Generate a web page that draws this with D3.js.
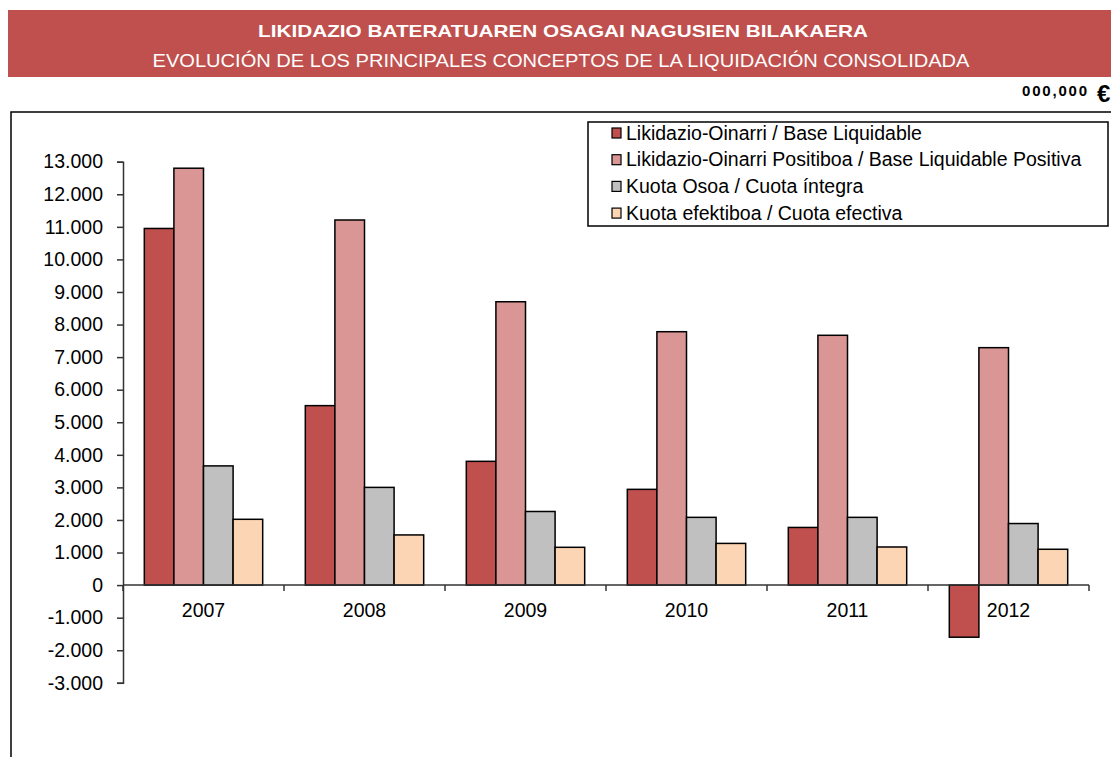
<!DOCTYPE html>
<html>
<head>
<meta charset="utf-8">
<script src="https://cdn.jsdelivr.net/npm/d3@7/dist/d3.min.js"></script>
<style>
  html, body { margin: 0; padding: 0; background: #fff; }
  svg { display: block; font-family: "Liberation Sans", Arial, sans-serif; }
</style>
</head>
<body>
<svg id="chart" width="1111" height="757"></svg>
<script>
// Years on the category axis
const years = ["2007", "2008", "2009", "2010", "2011", "2012"];

// Series names (legend order)
const seriesNames = [
  "Likidazio-Oinarri / Base Liquidable",
  "Likidazio-Oinarri Positiboa / Base Liquidable Positiva",
  "Kuota Osoa / Cuota íntegra",
  "Kuota efektiboa / Cuota efectiva"
];

// Values in millions of euros, one array per series
const baseLiquidable   = [10950, 5510, 3800, 2940, 1770, -1600];
const basePositiva     = [12800, 11210, 8700, 7780, 7670, 7290];
const cuotaIntegra     = [3660, 3000, 2260, 2080, 2080, 1890];
const cuotaEfectiva    = [2020, 1540, 1160, 1280, 1170, 1100];

const seriesColors = ["#C0504D", "#D99694", "#C0C0C0", "#FCD5B4"];

// Value-axis ticks
const yTicks = [-3000, -2000, -1000, 0, 1000, 2000, 3000, 4000, 5000, 6000, 7000, 8000, 9000, 10000, 11000, 12000, 13000];

const titleLine1 = "LIKIDAZIO BATERATUAREN OSAGAI NAGUSIEN BILAKAERA";
const titleLine2 = "EVOLUCIÓN DE LOS PRINCIPALES CONCEPTOS DE LA LIQUIDACIÓN CONSOLIDADA";
const unitNumber = "000,000";
const unitCurrency = "€";

const seriesData = [baseLiquidable, basePositiva, cuotaIntegra, cuotaEfectiva];

const svg = d3.select("#chart");

// Title banner
svg.append("rect").attr("x", 8).attr("y", 10).attr("width", 1103).attr("height", 67).attr("fill", "#C0504D");
svg.append("text").attr("x", 563).attr("y", 37).attr("text-anchor", "middle")
  .attr("fill", "#fff").attr("font-weight", "bold").attr("font-size", 17)
  .attr("textLength", 610).attr("lengthAdjust", "spacingAndGlyphs").text(titleLine1);
svg.append("text").attr("x", 561).attr("y", 67).attr("text-anchor", "middle")
  .attr("fill", "#fff").attr("font-size", 18)
  .attr("textLength", 817).attr("lengthAdjust", "spacingAndGlyphs").text(titleLine2);

// Unit label
const unit = svg.append("text").attr("y", 96).attr("font-weight", "bold").attr("fill", "#000");
unit.append("tspan").attr("x", 1022).attr("font-size", 15).attr("textLength", 65)
  .attr("lengthAdjust", "spacing").text(unitNumber);
unit.append("tspan").attr("x", 1097).attr("y", 102).attr("font-size", 24).text(unitCurrency);

// Chart area frame (left and top edges)
svg.append("path").attr("d", "M11,757V112H1111").attr("fill", "none").attr("stroke", "#000").attr("stroke-width", 1.5);

// Scales
const x0 = d3.scaleBand().domain(years).range([123, 1089]).padding(0);
const x1 = d3.scaleBand().domain(d3.range(seriesNames.length)).range([0, x0.bandwidth()])
  .paddingInner(0).paddingOuter(0.72);
const y = d3.scaleLinear().domain([-3000, 13000]).range([682.8, 161.7]);

const locale = d3.formatLocale({ decimal: ",", thousands: ".", grouping: [3], currency: ["", "€"], minus: "-" });
const fmt = locale.format(",d");

// Bars
const groups = svg.append("g").selectAll("g").data(years).join("g")
  .attr("transform", d => `translate(${x0(d)},0)`);
groups.selectAll("rect")
  .data((d, i) => seriesData.map((s, k) => ({ k, v: s[i] })))
  .join("rect")
  .attr("x", d => x1(d.k))
  .attr("width", x1.bandwidth())
  .attr("y", d => y(Math.max(0, d.v)))
  .attr("height", d => Math.abs(y(d.v) - y(0)))
  .attr("fill", d => seriesColors[d.k])
  .attr("stroke", "#000").attr("stroke-width", 1.5);

// Value axis
const yAxis = svg.append("g").attr("transform", "translate(123,0)")
  .call(d3.axisLeft(y).tickValues(yTicks).tickFormat(fmt).tickSize(6).tickPadding(14));
yAxis.select(".domain").attr("stroke", "#333").attr("stroke-width", 1.5);
yAxis.selectAll(".tick line").attr("stroke", "#333").attr("stroke-width", 1.5);
yAxis.selectAll("text").attr("font-size", 19.5).attr("fill", "#000")
  .attr("font-family", "\"Liberation Sans\", Arial, sans-serif");

// Category axis at zero
const xAxisG = svg.append("g");
const [xa, xb] = x0.range();
xAxisG.append("line").attr("x1", xa).attr("x2", xb).attr("y1", y(0)).attr("y2", y(0))
  .attr("stroke", "#333").attr("stroke-width", 1.5);
const boundaries = years.map(d => x0(d)).concat([xb]);
xAxisG.selectAll("line.tk").data(boundaries).join("line").attr("class", "tk")
  .attr("x1", d => d).attr("x2", d => d).attr("y1", y(0)).attr("y2", y(0) + 6)
  .attr("stroke", "#333").attr("stroke-width", 1.5);
xAxisG.selectAll("text").data(years).join("text")
  .attr("x", d => x0(d) + x0.bandwidth() / 2).attr("y", y(0) + 32)
  .attr("text-anchor", "middle").attr("font-size", 19.5).attr("fill", "#000").text(d => d);

// Legend
const legend = svg.append("g");
legend.append("rect").attr("x", 588).attr("y", 122).attr("width", 520).attr("height", 104)
  .attr("fill", "#fff").attr("stroke", "#000").attr("stroke-width", 1.5);
const items = legend.selectAll("g").data(seriesNames).join("g")
  .attr("transform", (d, i) => `translate(0,${133 + i * 26.7})`);
items.append("rect").attr("x", 612).attr("y", -5).attr("width", 9).attr("height", 10)
  .attr("fill", (d, i) => seriesColors[i]).attr("stroke", "#000").attr("stroke-width", 1.2);
items.append("text").attr("x", 626).attr("y", 6.5).attr("font-size", 19.5).attr("fill", "#000").text(d => d);
</script>
</body>
</html>
